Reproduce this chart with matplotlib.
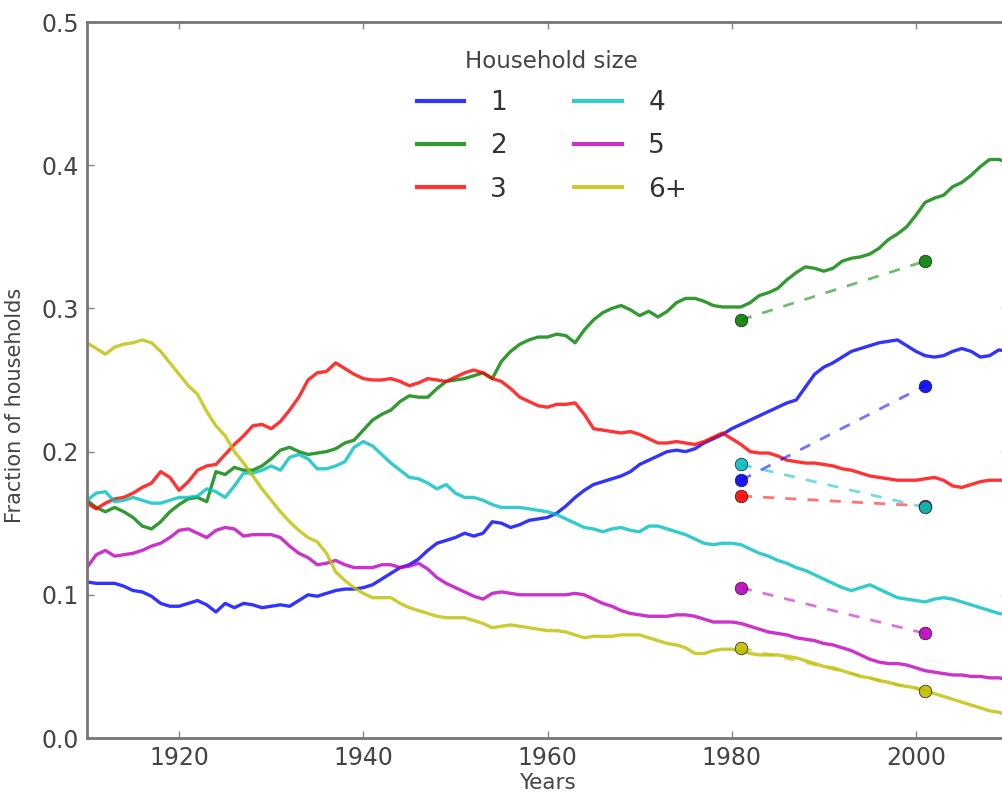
import matplotlib
matplotlib.use("Agg")
import matplotlib.pyplot as plt
import numpy as np

years = list(range(1910, 2011))

size_1 = [0.109, 0.108, 0.108, 0.108, 0.106, 0.103, 0.102, 0.099, 0.094, 0.092,
          0.092, 0.094, 0.096, 0.093, 0.088, 0.094, 0.091, 0.094, 0.093, 0.091,
          0.092, 0.093, 0.092, 0.096, 0.100, 0.099, 0.101, 0.103, 0.104, 0.104,
          0.105, 0.107, 0.111, 0.115, 0.119, 0.121, 0.125, 0.131, 0.136, 0.138,
          0.140, 0.143, 0.141, 0.143, 0.151, 0.150, 0.147, 0.149, 0.152, 0.153,
          0.154, 0.157, 0.162, 0.168, 0.173, 0.177, 0.179, 0.181, 0.183, 0.186,
          0.191, 0.194, 0.197, 0.200, 0.201, 0.200, 0.202, 0.206, 0.209, 0.212,
          0.216, 0.219, 0.222, 0.225, 0.228, 0.231, 0.234, 0.236, 0.245, 0.254,
          0.259, 0.262, 0.266, 0.270, 0.272, 0.274, 0.276, 0.277, 0.278, 0.274,
          0.270, 0.267, 0.266, 0.267, 0.270, 0.272, 0.270, 0.266, 0.267, 0.271,
          0.270]

size_2 = [0.166, 0.161, 0.158, 0.161, 0.158, 0.154, 0.148, 0.146, 0.151, 0.158,
          0.163, 0.167, 0.168, 0.165, 0.186, 0.184, 0.189, 0.187, 0.187, 0.190,
          0.195, 0.201, 0.203, 0.200, 0.198, 0.199, 0.200, 0.202, 0.206, 0.208,
          0.215, 0.222, 0.226, 0.229, 0.235, 0.239, 0.238, 0.238, 0.244, 0.249,
          0.250, 0.251, 0.253, 0.255, 0.251, 0.263, 0.270, 0.275, 0.278, 0.280,
          0.280, 0.282, 0.281, 0.276, 0.285, 0.292, 0.297, 0.300, 0.302, 0.299,
          0.295, 0.298, 0.294, 0.298, 0.304, 0.307, 0.307, 0.305, 0.302, 0.301,
          0.301, 0.301, 0.304, 0.309, 0.311, 0.314, 0.320, 0.325, 0.329, 0.328,
          0.326, 0.328, 0.333, 0.335, 0.336, 0.338, 0.342, 0.348, 0.352, 0.357,
          0.365, 0.374, 0.377, 0.379, 0.385, 0.388, 0.393, 0.399, 0.404, 0.404,
          0.402]

size_3 = [0.164, 0.160, 0.164, 0.167, 0.168, 0.171, 0.175, 0.178, 0.186, 0.182,
          0.173, 0.179, 0.187, 0.190, 0.191, 0.198, 0.205, 0.211, 0.218, 0.219,
          0.216, 0.221, 0.229, 0.238, 0.250, 0.255, 0.256, 0.262, 0.258, 0.254,
          0.251, 0.250, 0.250, 0.251, 0.249, 0.246, 0.248, 0.251, 0.250, 0.249,
          0.252, 0.255, 0.257, 0.255, 0.251, 0.249, 0.244, 0.238, 0.235, 0.232,
          0.231, 0.233, 0.233, 0.234, 0.226, 0.216, 0.215, 0.214, 0.213, 0.214,
          0.212, 0.209, 0.206, 0.206, 0.207, 0.206, 0.205, 0.207, 0.210, 0.213,
          0.209, 0.205, 0.200, 0.199, 0.199, 0.197, 0.194, 0.193, 0.192, 0.192,
          0.191, 0.190, 0.188, 0.187, 0.185, 0.183, 0.182, 0.181, 0.180, 0.180,
          0.180, 0.181, 0.182, 0.180, 0.176, 0.175, 0.177, 0.179, 0.180, 0.180,
          0.180]

size_4 = [0.166, 0.171, 0.172, 0.165, 0.166, 0.168, 0.166, 0.164, 0.164, 0.166,
          0.168, 0.168, 0.169, 0.174, 0.172, 0.168, 0.176, 0.185, 0.185, 0.187,
          0.190, 0.187, 0.196, 0.198, 0.195, 0.188, 0.188, 0.190, 0.193, 0.203,
          0.207, 0.204, 0.198, 0.192, 0.187, 0.182, 0.181, 0.178, 0.174, 0.177,
          0.171, 0.168, 0.168, 0.166, 0.163, 0.161, 0.161, 0.161, 0.160, 0.159,
          0.158, 0.156, 0.153, 0.150, 0.147, 0.146, 0.144, 0.146, 0.147, 0.145,
          0.144, 0.148, 0.148, 0.146, 0.144, 0.142, 0.139, 0.136, 0.135, 0.136,
          0.136, 0.135, 0.132, 0.129, 0.127, 0.124, 0.122, 0.119, 0.117, 0.114,
          0.111, 0.108, 0.105, 0.103, 0.105, 0.107, 0.104, 0.101, 0.098, 0.097,
          0.096, 0.095, 0.097, 0.098, 0.097, 0.095, 0.093, 0.091, 0.089, 0.087,
          0.086]

size_5 = [0.119, 0.128, 0.131, 0.127, 0.128, 0.129, 0.131, 0.134, 0.136, 0.140,
          0.145, 0.146, 0.143, 0.140, 0.145, 0.147, 0.146, 0.141, 0.142, 0.142,
          0.142, 0.140, 0.134, 0.129, 0.126, 0.121, 0.122, 0.124, 0.121, 0.119,
          0.119, 0.119, 0.121, 0.121, 0.119, 0.120, 0.122, 0.118, 0.112, 0.108,
          0.105, 0.102, 0.099, 0.097, 0.101, 0.102, 0.101, 0.100, 0.100, 0.100,
          0.100, 0.100, 0.100, 0.101, 0.100, 0.097, 0.094, 0.092, 0.089, 0.087,
          0.086, 0.085, 0.085, 0.085, 0.086, 0.086, 0.085, 0.083, 0.081, 0.081,
          0.081, 0.080, 0.078, 0.076, 0.074, 0.073, 0.072, 0.070, 0.069, 0.068,
          0.066, 0.065, 0.063, 0.061, 0.058, 0.055, 0.053, 0.052, 0.052, 0.051,
          0.049, 0.047, 0.046, 0.045, 0.044, 0.044, 0.043, 0.043, 0.042, 0.042,
          0.041]

size_6 = [0.276, 0.272, 0.268, 0.273, 0.275, 0.276, 0.278, 0.276, 0.270, 0.262,
          0.254, 0.246, 0.240, 0.228, 0.218, 0.211, 0.200, 0.192, 0.183, 0.174,
          0.166, 0.158, 0.151, 0.145, 0.140, 0.137, 0.129, 0.116, 0.110, 0.105,
          0.101, 0.098, 0.098, 0.098, 0.094, 0.091, 0.089, 0.087, 0.085, 0.084,
          0.084, 0.084, 0.082, 0.080, 0.077, 0.078, 0.079, 0.078, 0.077, 0.076,
          0.075, 0.075, 0.074, 0.072, 0.070, 0.071, 0.071, 0.071, 0.072, 0.072,
          0.072, 0.070, 0.068, 0.066, 0.065, 0.063, 0.059, 0.059, 0.061, 0.062,
          0.062, 0.061, 0.059, 0.058, 0.058, 0.058, 0.057, 0.056, 0.054, 0.052,
          0.050, 0.049, 0.047, 0.045, 0.043, 0.042, 0.040, 0.039, 0.037, 0.036,
          0.035, 0.033, 0.031, 0.029, 0.027, 0.025, 0.023, 0.021, 0.019, 0.018,
          0.016]

labels = ["1", "2", "3", "4", "5", "6+"]
colors = ["#0000ff", "#008000", "#ff0000", "#00bfbf", "#bf00bf", "#bfbf00"]

# census snapshot points (1981 and 2001)
snap_years = [1981, 2001]
snap_1 = [0.180, 0.246]
snap_2 = [0.292, 0.333]
snap_3 = [0.169, 0.162]
snap_4 = [0.191, 0.161]
snap_5 = [0.105, 0.073]
snap_6 = [0.063, 0.033]

series = [size_1, size_2, size_3, size_4, size_5, size_6]
snaps = [snap_1, snap_2, snap_3, snap_4, snap_5, snap_6]

W, H = 1002, 798
fig = plt.figure(figsize=(W / 100, H / 100), dpi=100)
ax = fig.add_axes([87 / W, 1 - 738 / H, 921 / W, 716 / H])

for vals, c, lab in zip(series, colors, labels):
    ax.plot(years, vals, color=c, lw=2.4, alpha=0.8, label=lab, solid_joinstyle="round")

for s, c in zip(snaps, colors):
    ax.plot(snap_years, s, color=c, lw=2.0, ls=(0, (4, 4)), alpha=0.55)
    ax.plot(snap_years, s, ls="none", marker="o", ms=9, mfc=c,
            mec="#222222", mew=0.6, alpha=0.9)

ax.set_xlim(1910, 2010)
ax.set_ylim(0.0, 0.5)
ax.set_xticks([1920, 1940, 1960, 1980, 2000])
ax.set_yticks([0.0, 0.1, 0.2, 0.3, 0.4, 0.5])
ax.set_yticklabels(["0.0", "0.1", "0.2", "0.3", "0.4", "0.5"])

tick_color = "#444444"
for sp in ax.spines.values():
    sp.set_color("#777777")
    sp.set_linewidth(2.0)
ax.tick_params(direction="in", length=5, width=1, colors="#888888",
               labelcolor=tick_color, labelsize=17, top=True, right=True, pad=6)

ax.set_xlabel("Years", fontsize=15.5, color=tick_color, labelpad=2)
ax.set_ylabel("Fraction of households", fontsize=15, color=tick_color)
ax.yaxis.set_label_coords(-0.067, 0.464)

leg = ax.legend(ncol=2, frameon=False, title="Household size",
                loc="upper left", bbox_to_anchor=(0.332, 0.994),
                fontsize=19, title_fontsize=16.5,
                handlelength=1.8, handletextpad=1.0, columnspacing=2.55,
                labelspacing=0.65)
for t in leg.get_texts():
    t.set_color("#333333")
leg.get_title().set_color("#444444")
for h in leg.legend_handles:
    h.set_linewidth(3)

fig.savefig("out.png", dpi=100)
